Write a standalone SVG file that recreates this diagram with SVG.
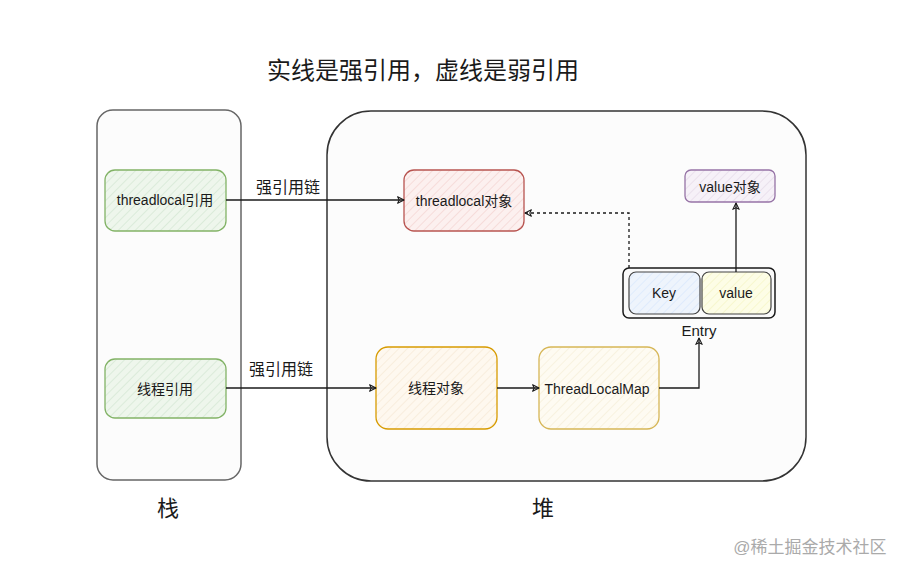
<svg xmlns="http://www.w3.org/2000/svg" width="909" height="575" viewBox="0 0 909 575">
<style>
text{font-family:"Liberation Sans","Noto Sans CJK SC",sans-serif;fill:#1a1a1a}
.n{font-size:14px;text-anchor:middle;dominant-baseline:central}
.big{font-size:22px;text-anchor:middle;dominant-baseline:central}
.lbl{font-size:15px;text-anchor:middle;dominant-baseline:central}
.c{fill:none;stroke:#1a1a1a;stroke-width:1.3}
</style>
<defs>
<pattern id="hg" width="6" height="6" patternUnits="userSpaceOnUse" patternTransform="rotate(45)"><rect width="6" height="6" fill="#eef6ec"/><line x1="0" y1="0" x2="0" y2="6" stroke="#d5e8d4" stroke-width="1.5"/></pattern>
<pattern id="hr" width="6" height="6" patternUnits="userSpaceOnUse" patternTransform="rotate(45)"><rect width="6" height="6" fill="#fcf0ef"/><line x1="0" y1="0" x2="0" y2="6" stroke="#f5d6d4" stroke-width="1.5"/></pattern>
<pattern id="hp" width="6" height="6" patternUnits="userSpaceOnUse" patternTransform="rotate(45)"><rect width="6" height="6" fill="#f6f1f8"/><line x1="0" y1="0" x2="0" y2="6" stroke="#e6dcea" stroke-width="1.5"/></pattern>
<pattern id="hb" width="6" height="6" patternUnits="userSpaceOnUse" patternTransform="rotate(45)"><rect width="6" height="6" fill="#eef4fc"/><line x1="0" y1="0" x2="0" y2="6" stroke="#dae8fc" stroke-width="1.5"/></pattern>
<pattern id="hy" width="6" height="6" patternUnits="userSpaceOnUse" patternTransform="rotate(45)"><rect width="6" height="6" fill="#fdfde6"/><line x1="0" y1="0" x2="0" y2="6" stroke="#f6f6c8" stroke-width="1.5"/></pattern>
<pattern id="ho" width="6" height="6" patternUnits="userSpaceOnUse" patternTransform="rotate(45)"><rect width="6" height="6" fill="#fef8ef"/><line x1="0" y1="0" x2="0" y2="6" stroke="#f7ead8" stroke-width="1.5"/></pattern>
<pattern id="hm" width="6" height="6" patternUnits="userSpaceOnUse" patternTransform="rotate(45)"><rect width="6" height="6" fill="#fefbf2"/><line x1="0" y1="0" x2="0" y2="6" stroke="#f6efda" stroke-width="1.5"/></pattern>
<marker id="ar" viewBox="0 0 10 10" refX="9" refY="5" markerWidth="8" markerHeight="8" orient="auto" markerUnits="userSpaceOnUse"><path d="M1,1 L9,5 L1,9 L3,5 Z" fill="none" stroke="#1a1a1a" stroke-width="1.3" stroke-linejoin="round"/></marker>
</defs>

<text class="big" x="423" y="70" style="font-size:24px">实线是强引用，虚线是弱引用</text>

<g id="stack">
<rect x="97" y="110" width="144" height="370" rx="16" fill="#fcfcfc" stroke="#666" stroke-width="1.5"/>
<text class="big" x="168" y="508">栈</text>
</g>
<g id="heap">
<rect x="327" y="111" width="479" height="370" rx="44" fill="#fcfcfc" stroke="#333" stroke-width="1.5"/>
<text class="big" x="543" y="508">堆</text>
</g>

<g id="threadlocalRef">
<rect x="105" y="170" width="121" height="61" rx="10" fill="url(#hg)" stroke="#82b366" stroke-width="1.3"/>
<text class="n" x="165" y="200">threadlocal引用</text>
</g>
<g id="threadRef">
<rect x="105" y="359" width="121" height="59" rx="10" fill="url(#hg)" stroke="#82b366" stroke-width="1.3"/>
<text class="n" x="165" y="389">线程引用</text>
</g>
<g id="threadlocalObj">
<rect x="404" y="170" width="120" height="61" rx="10" fill="url(#hr)" stroke="#b85450" stroke-width="1.3"/>
<text class="n" x="464" y="201">threadlocal对象</text>
</g>
<g id="valueObj">
<rect x="685" y="170" width="90" height="32" rx="6" fill="url(#hp)" stroke="#9673a6" stroke-width="1.3"/>
<text class="n" x="730" y="187">value对象</text>
</g>
<g id="entry">
<rect x="623" y="268" width="152" height="50" rx="6" fill="#fafafa" stroke="#1a1a1a" stroke-width="1.5"/>
<rect x="629" y="272" width="71" height="42" rx="7" fill="url(#hb)" stroke="#444" stroke-width="1.2"/>
<text class="n" x="664" y="293">Key</text>
<rect x="702" y="272" width="69" height="42" rx="7" fill="url(#hy)" stroke="#444" stroke-width="1.2"/>
<text class="n" x="736" y="293">value</text>
<text class="lbl" x="699" y="330">Entry</text>
</g>
<g id="threadObj">
<rect x="376" y="347" width="121" height="82" rx="12" fill="url(#ho)" stroke="#d79b00" stroke-width="1.3"/>
<text class="n" x="436" y="388">线程对象</text>
</g>
<g id="threadLocalMap">
<rect x="539" y="347" width="120" height="82" rx="12" fill="url(#hm)" stroke="#d6b656" stroke-width="1.3"/>
<text class="n" x="597" y="389">ThreadLocalMap</text>
</g>

<g id="connectors">
<path class="c" d="M226,200 L404,200" marker-end="url(#ar)"/>
<text class="lbl" x="288" y="187" style="font-size:16px">强引用链</text>
<path class="c" d="M226,388 L376,388" marker-end="url(#ar)"/>
<text class="lbl" x="281" y="369" style="font-size:16px">强引用链</text>
<path class="c" d="M497,388 L539,388" marker-end="url(#ar)"/>
<path class="c" d="M659,388 L699,388 L699,338" marker-end="url(#ar)"/>
<path class="c" d="M736,272 L736,203" marker-end="url(#ar)"/>
<path class="c" d="M629,268 L629,213 L525,213" stroke-dasharray="3,3" marker-end="url(#ar)"/>
</g>

<text x="810" y="547" style="font-size:17px;fill:#aaa;text-anchor:middle;dominant-baseline:central">@稀土掘金技术社区</text>
</svg>
